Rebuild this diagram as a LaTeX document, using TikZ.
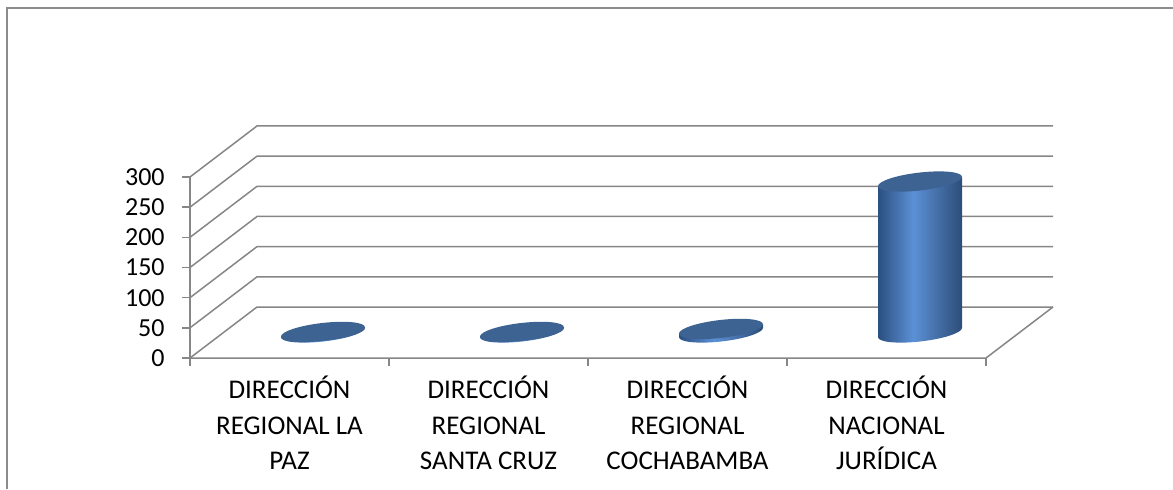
\documentclass[tikz,border=0pt]{standalone}
\usepackage{fontspec}
\setmainfont{Carlito}
\definecolor{gridgray}{HTML}{868686}
\definecolor{framegray}{HTML}{8C8C8C}
\definecolor{topblue}{HTML}{3D6392}
\definecolor{cylA}{HTML}{2B4F80}
\definecolor{cylB}{HTML}{5C90D6}
\definecolor{cylC}{HTML}{2C4D78}
\pgfdeclarehorizontalshading{cylshade}{100bp}{color(0bp)=(cylA); color(25bp)=(cylA); color(46bp)=(cylB); color(75bp)=(cylC); color(100bp)=(cylC)}
\newcommand\drawbar[3]{%
  \begin{scope}[cm={1,0.11,0,1,(#1,156.5)}]
    \shade[shading=cylshade] (-42,0) -- (-42,#2) -- (42,#2) -- (42,0)
      arc[start angle=0,end angle=-180,x radius=42,y radius=9] -- cycle;
    \fill[topblue] (0,#2) ellipse[x radius=42,y radius=9];
    \coordinate (#3) at (0,#2);
  \end{scope}}
\begin{document}
\begin{tikzpicture}[x=0.5pt,y=0.5pt,
  grid/.style={draw=gridgray,line width=0.75pt},
  ylab/.style={anchor=east,inner sep=0pt,font=\fontsize{13}{15}\selectfont},
  catlab/.style={anchor=north,inner sep=0pt,align=center,font=\fontsize{13.5}{17.6}\selectfont}]
\useasboundingbox (0,0) rectangle (1173,489);
\draw[draw=framegray,line width=1pt] (7,0) -- (7,481) -- (1173,481);
% walls
\foreach \k/\v in {0/0,1/50,2/100,3/150,4/200,5/250,6/300}{
  \coordinate (f\k) at (190,{131+30.17*\k});
  \coordinate (b\k) at (257,{182+30.17*\k});
  \coordinate (r\k) at (1053,{182+30.17*\k});
  \coordinate (t\k) at (182,{131+30.17*\k});
  \draw[grid] (f\k) -- (b\k) -- (r\k);
  \draw[grid] (t\k) -- (f\k);
  \node[ylab] (y\k) at (165,{131+30.17*\k}) {\v};
}
\coordinate (fr) at (986,131);
\coordinate (axbot) at (190,123);
\draw[grid] (f6) -- (axbot);
\draw[grid] (f0) -- (fr) -- (r0);
\foreach \x in {389,588,787,986}{
  \draw[grid] (\x,131) -- (\x,123);
}
% bars
\drawbar{323}{0.6}{bar1}
\drawbar{522}{0.6}{bar2}
\drawbar{721}{3.6}{bar3}
\drawbar{920}{151}{bar4}
% category labels
\node[catlab] (c1) at (289.5,113) {DIRECCIÓN\\REGIONAL LA\\PAZ};
\node[catlab] (c2) at (488.5,113) {DIRECCIÓN\\REGIONAL\\SANTA CRUZ};
\node[catlab] (c3) at (687.5,113) {DIRECCIÓN\\REGIONAL\\COCHABAMBA};
\node[catlab] (c4) at (886.5,113) {DIRECCIÓN\\NACIONAL\\JURÍDICA};
\end{tikzpicture}
\end{document}
